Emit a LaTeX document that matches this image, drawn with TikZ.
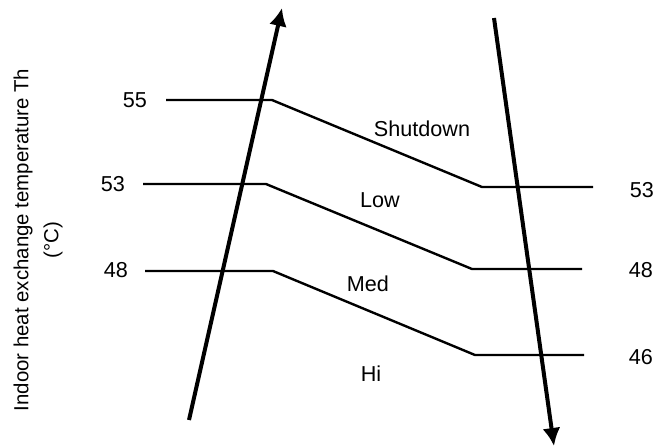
\documentclass[tikz,border=0pt]{standalone}
\usepackage{fontspec}
\setmainfont{Liberation Sans}
\usetikzlibrary{arrows.meta}

\begin{document}
\begin{tikzpicture}[x=0.5pt, y=-0.5pt,
    lbl/.style={font=\fontsize{10.8}{15}\selectfont, inner sep=0pt},
    lvl/.style={line width=1.2pt},
    axis/.style={line width=2pt, -{Latex[length=9pt, width=9pt]}}
  ]
  \useasboundingbox (0,0) rectangle (655,447);

  % level lines
  \coordinate (s1) at (166,100); \coordinate (s2) at (272,100);
  \coordinate (s3) at (482,187); \coordinate (s4) at (593,187);
  \coordinate (l1) at (143,184); \coordinate (l2) at (266,184);
  \coordinate (l3) at (472,269); \coordinate (l4) at (582,269);
  \coordinate (m1) at (145,271); \coordinate (m2) at (273,271);
  \coordinate (m3) at (475,355); \coordinate (m4) at (584,355);
  \draw[lvl] (s1) -- (s2) -- (s3) -- (s4);
  \draw[lvl] (l1) -- (l2) -- (l3) -- (l4);
  \draw[lvl] (m1) -- (m2) -- (m3) -- (m4);

  % rising / falling arrows
  \coordinate (upA) at (189,420); \coordinate (upB) at (282,8);
  \coordinate (dnA) at (494,18);  \coordinate (dnB) at (554,446);
  \draw[axis] (upA) -- (upB);
  \draw[axis] (dnA) -- (dnB);

  % values
  \node[lbl] (v55)  at (135,100) {55};
  \node[lbl] (v53l) at (113,184) {53};
  \node[lbl] (v48l) at (116,270) {48};
  \node[lbl] (v53r) at (642,190) {53};
  \node[lbl] (v48r) at (641,270) {48};
  \node[lbl] (v46r) at (641,357) {46};

  % modes
  \node[lbl] (shut) at (422,129) {Shutdown};
  \node[lbl] (low)  at (380,200) {Low};
  \node[lbl] (med)  at (368,284) {Med};
  \node[lbl] (hi)   at (371,374) {Hi};

  \node[lbl, font=\fontsize{10.2}{15}\selectfont, rotate=90, align=center] (ylab) at (38,240)
    {Indoor heat exchange temperature Th\\(°C)};
\end{tikzpicture}
\end{document}
